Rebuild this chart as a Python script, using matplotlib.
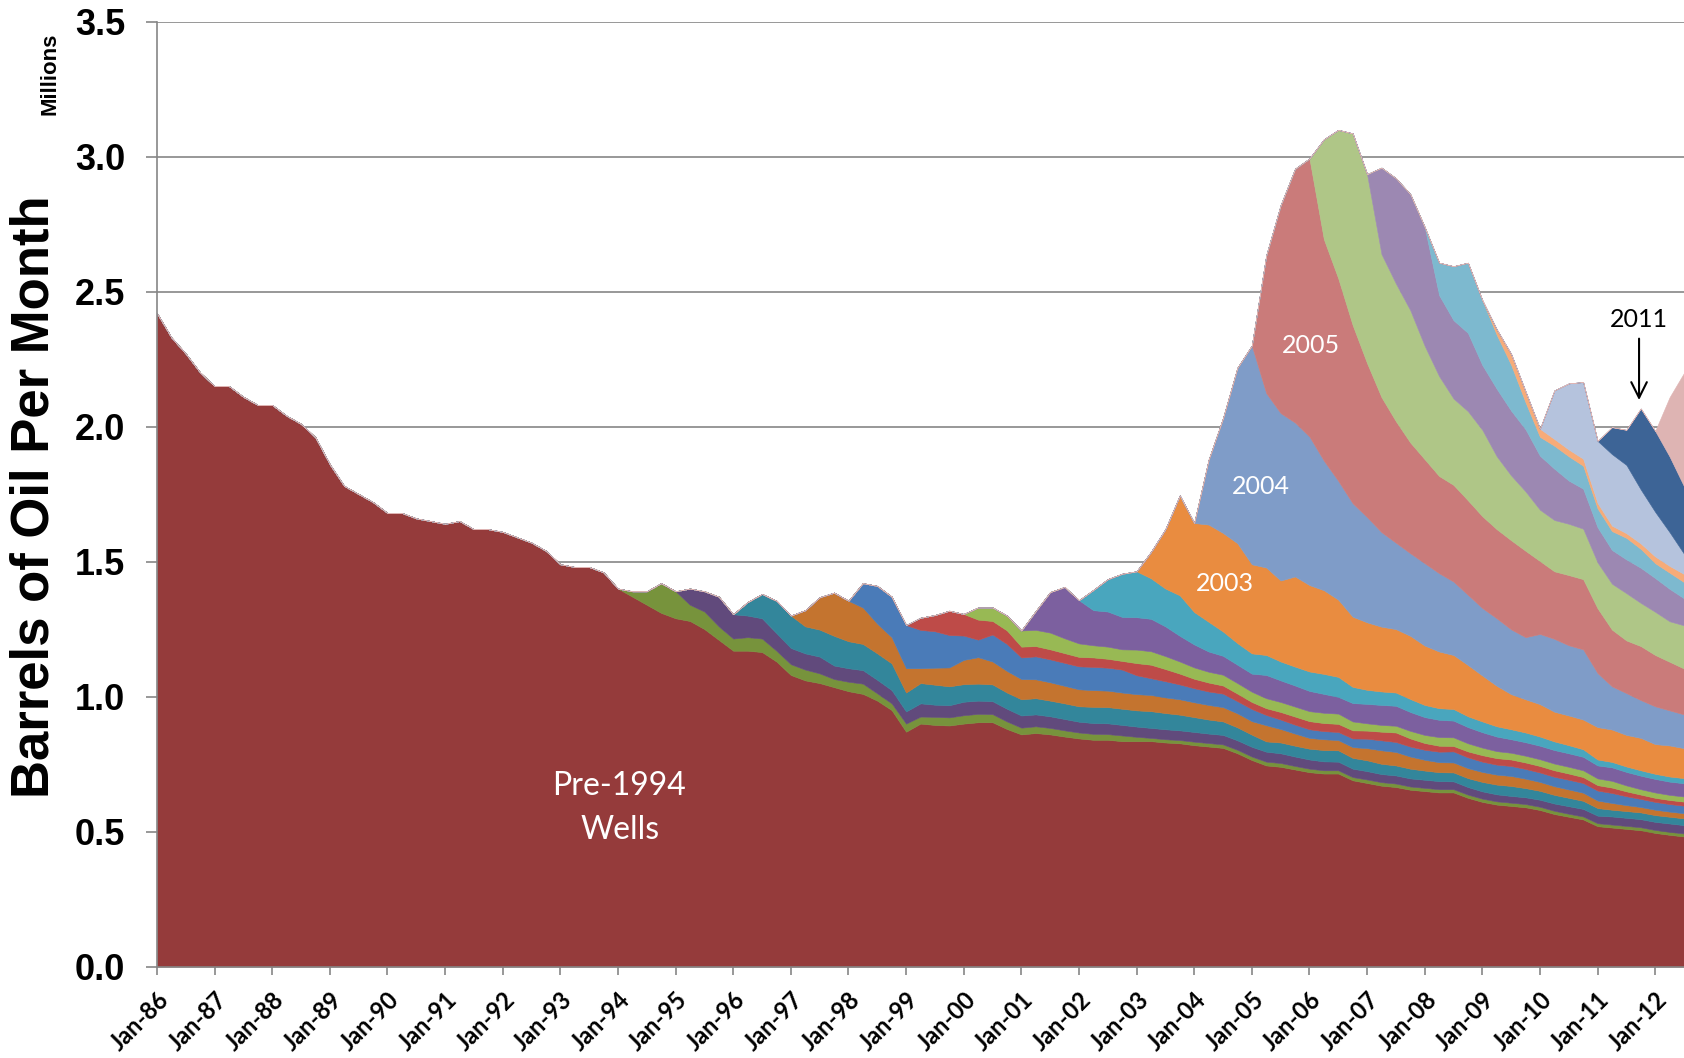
import numpy as np
import matplotlib
matplotlib.use('Agg')
from matplotlib import pyplot as plt

# quarterly readings (Jan, Apr, Jul, Oct) from Jan-86 to Jul-12, millions of barrels per month
start_year = 1986
n_points = 107

pre_1994 = [2.42, 2.33, 2.27, 2.20, 2.15, 2.15, 2.11, 2.08, 2.08, 2.04, 2.01, 1.96,
            1.86, 1.78, 1.75, 1.72, 1.68, 1.68, 1.66, 1.65, 1.64, 1.65, 1.62, 1.62,
            1.61, 1.59, 1.57, 1.54, 1.49, 1.48, 1.48, 1.46, 1.40, 1.37, 1.34, 1.31,
            1.29, 1.28, 1.25, 1.21, 1.17, 1.17, 1.165, 1.13, 1.08, 1.06, 1.05, 1.035,
            1.02, 1.01, 0.985, 0.95, 0.87, 0.90, 0.895, 0.893, 0.90, 0.905, 0.905, 0.88,
            0.86, 0.865, 0.86, 0.852, 0.845, 0.84, 0.84, 0.835, 0.835, 0.835, 0.83, 0.827,
            0.82, 0.815, 0.81, 0.79, 0.765, 0.745, 0.74, 0.73, 0.72, 0.715, 0.715, 0.69,
            0.68, 0.67, 0.665, 0.655, 0.65, 0.645, 0.645, 0.625, 0.61, 0.60, 0.595, 0.59,
            0.58, 0.565, 0.555, 0.545, 0.52, 0.515, 0.51, 0.505, 0.495, 0.488, 0.482]

# each vintage starts in January of its year
wells_1994 = [0, 0.02, 0.05, 0.11, 0.10, 0.06, 0.065, 0.05, 0.045, 0.05, 0.05, 0.04,
              0.04, 0.04, 0.036, 0.03, 0.035, 0.038, 0.027, 0.025, 0.03, 0.026, 0.03, 0.03,
              0.031, 0.031, 0.03, 0.028, 0.025, 0.025, 0.024, 0.023, 0.022, 0.022, 0.021, 0.021,
              0.016, 0.012, 0.012, 0.012, 0.013, 0.013, 0.013, 0.013, 0.013, 0.014, 0.014, 0.013,
              0.013, 0.012, 0.012, 0.012, 0.013, 0.013, 0.013, 0.012, 0.012, 0.012, 0.012, 0.012,
              0.012, 0.012, 0.012, 0.012, 0.012, 0.012, 0.011, 0.011, 0.011, 0.011, 0.011, 0.011,
              0.011, 0.011, 0.011]
wells_1995 = [0, 0.06, 0.075, 0.11, 0.09, 0.08, 0.075, 0.065, 0.06, 0.06, 0.062, 0.05,
              0.05, 0.05, 0.05, 0.049, 0.045, 0.049, 0.045, 0.045, 0.05, 0.049, 0.048, 0.047,
              0.045, 0.044, 0.043, 0.042, 0.04, 0.04, 0.04, 0.039, 0.038, 0.037, 0.037, 0.036,
              0.036, 0.035, 0.035, 0.035, 0.036, 0.037, 0.036, 0.035, 0.034, 0.033, 0.032, 0.031,
              0.031, 0.03, 0.03, 0.03, 0.03, 0.03, 0.029, 0.028, 0.027, 0.026, 0.025, 0.025,
              0.026, 0.027, 0.028, 0.028, 0.028, 0.03, 0.03, 0.03, 0.03, 0.031, 0.031]
wells_1996 = [0, 0.05, 0.09, 0.12, 0.12, 0.10, 0.10, 0.11, 0.10, 0.097, 0.098, 0.099,
              0.07, 0.075, 0.074, 0.07, 0.065, 0.063, 0.062, 0.06, 0.06, 0.06, 0.058, 0.058,
              0.057, 0.06, 0.06, 0.06, 0.06, 0.062, 0.06, 0.058, 0.055, 0.052, 0.05, 0.048,
              0.045, 0.038, 0.04, 0.04, 0.04, 0.042, 0.042, 0.04, 0.04, 0.038, 0.037, 0.036,
              0.034, 0.033, 0.033, 0.033, 0.035, 0.036, 0.037, 0.034, 0.033, 0.032, 0.031, 0.03,
              0.028, 0.025, 0.025, 0.025, 0.025, 0.025, 0.025]
wells_1997 = [0, 0.06, 0.12, 0.16, 0.15, 0.135, 0.11, 0.097, 0.09, 0.055, 0.063, 0.07,
              0.09, 0.098, 0.085, 0.08, 0.075, 0.07, 0.068, 0.065, 0.063, 0.062, 0.061, 0.06,
              0.06, 0.06, 0.058, 0.057, 0.055, 0.054, 0.053, 0.052, 0.05, 0.06, 0.05, 0.045,
              0.04, 0.04, 0.038, 0.04, 0.045, 0.05, 0.05, 0.045, 0.04, 0.037, 0.037, 0.037,
              0.037, 0.037, 0.037, 0.035, 0.033, 0.032, 0.031, 0.03, 0.028, 0.025, 0.022, 0.02,
              0.02, 0.019, 0.019]
wells_1998 = [0, 0.09, 0.14, 0.15, 0.16, 0.142, 0.135, 0.12, 0.09, 0.065, 0.10, 0.10,
              0.08, 0.085, 0.085, 0.085, 0.085, 0.086, 0.085, 0.085, 0.07, 0.062, 0.06, 0.055,
              0.052, 0.05, 0.05, 0.045, 0.045, 0.038, 0.035, 0.033, 0.032, 0.03, 0.03, 0.032,
              0.035, 0.037, 0.037, 0.037, 0.037, 0.039, 0.041, 0.04, 0.038, 0.037, 0.037, 0.036,
              0.035, 0.035, 0.036, 0.036, 0.037, 0.037, 0.033, 0.03, 0.029, 0.028, 0.028]
wells_1999 = [0, 0.045, 0.06, 0.09, 0.08, 0.074, 0.05, 0.05, 0.04, 0.038, 0.037, 0.036,
              0.035, 0.035, 0.033, 0.032, 0.045, 0.05, 0.045, 0.04, 0.035, 0.033, 0.03, 0.028,
              0.026, 0.025, 0.028, 0.03, 0.03, 0.03, 0.03, 0.03, 0.03, 0.032, 0.035, 0.03,
              0.025, 0.022, 0.02, 0.022, 0.024, 0.024, 0.024, 0.024, 0.024, 0.024, 0.023, 0.022,
              0.02, 0.02, 0.018, 0.016, 0.015, 0.015, 0.015]
wells_2000 = [0, 0.045, 0.05, 0.055, 0.06, 0.06, 0.062, 0.055, 0.05, 0.045, 0.045, 0.043,
              0.05, 0.05, 0.048, 0.045, 0.042, 0.04, 0.04, 0.039, 0.038, 0.037, 0.037, 0.037,
              0.037, 0.038, 0.038, 0.033, 0.027, 0.025, 0.025, 0.028, 0.03, 0.032, 0.032, 0.03,
              0.028, 0.026, 0.025, 0.025, 0.025, 0.025, 0.025, 0.025, 0.025, 0.025, 0.022, 0.02,
              0.02, 0.019, 0.019]
wells_2001 = [0, 0.07, 0.15, 0.19, 0.16, 0.13, 0.13, 0.12, 0.12, 0.12, 0.11, 0.095,
              0.085, 0.075, 0.07, 0.068, 0.067, 0.086, 0.08, 0.078, 0.075, 0.07, 0.062, 0.068,
              0.072, 0.074, 0.074, 0.07, 0.066, 0.064, 0.062, 0.06, 0.057, 0.054, 0.05, 0.05,
              0.05, 0.05, 0.05, 0.05, 0.048, 0.05, 0.05, 0.05, 0.05, 0.049, 0.049]
wells_2002 = [0, 0.075, 0.12, 0.16, 0.17, 0.15, 0.14, 0.15, 0.12, 0.11, 0.09, 0.08,
              0.075, 0.074, 0.07, 0.07, 0.072, 0.074, 0.074, 0.06, 0.052, 0.05, 0.049, 0.048,
              0.045, 0.043, 0.043, 0.04, 0.04, 0.038, 0.037, 0.036, 0.034, 0.032, 0.03, 0.028,
              0.022, 0.02, 0.02, 0.02, 0.019, 0.019, 0.019]
wells_2003 = [0, 0.098, 0.22, 0.37, 0.33, 0.36, 0.365, 0.37, 0.33, 0.324, 0.30, 0.334,
              0.32, 0.31, 0.286, 0.26, 0.25, 0.24, 0.235, 0.234, 0.22, 0.21, 0.20, 0.19,
              0.17, 0.15, 0.13, 0.123, 0.12, 0.11, 0.11, 0.11, 0.12, 0.12, 0.117, 0.12,
              0.11, 0.115, 0.111]
wells_2004 = [0, 0.24, 0.425, 0.65, 0.81, 0.646, 0.62, 0.57, 0.55, 0.48, 0.44, 0.42,
              0.39, 0.35, 0.32, 0.306, 0.305, 0.29, 0.272, 0.26, 0.25, 0.25, 0.24, 0.23,
              0.26, 0.27, 0.26, 0.26, 0.20, 0.16, 0.155, 0.14, 0.14, 0.13, 0.125]
wells_2005 = [0, 0.51, 0.77, 0.94, 1.03, 0.82, 0.75, 0.66, 0.57, 0.50, 0.45, 0.41,
              0.385, 0.36, 0.358, 0.35, 0.34, 0.33, 0.33, 0.32, 0.27, 0.25, 0.26, 0.26,
              0.24, 0.21, 0.195, 0.20, 0.19, 0.18, 0.17]
wells_2006 = [0, 0.37, 0.55, 0.71, 0.70, 0.53, 0.51, 0.49, 0.42, 0.37, 0.32, 0.33,
              0.32, 0.27, 0.24, 0.22, 0.19, 0.19, 0.19, 0.187, 0.17, 0.17, 0.175, 0.16,
              0.16, 0.15, 0.16]
wells_2007 = [0, 0.32, 0.39, 0.43, 0.44, 0.30, 0.29, 0.29, 0.24, 0.25, 0.24, 0.23,
              0.20, 0.19, 0.16, 0.148, 0.13, 0.125, 0.125, 0.13, 0.125, 0.12, 0.10]
wells_2008 = [0, 0.12, 0.20, 0.26, 0.24, 0.20, 0.17, 0.10, 0.07, 0.085, 0.09, 0.085,
              0.07, 0.07, 0.08, 0.07, 0.055, 0.06, 0.06]
wells_2009 = [0, 0.02, 0.04, 0.04, 0.03, 0.025, 0.025, 0.026, 0.02, 0.02, 0.017, 0.02,
              0.025, 0.025, 0.03]
wells_2010 = [0, 0.18, 0.245, 0.284, 0.23, 0.265, 0.253, 0.20, 0.165, 0.125, 0.075]
wells_2011 = [0, 0.10, 0.13, 0.30, 0.30, 0.28, 0.25]
wells_2012 = [0, 0.22, 0.42]

series = [pre_1994, wells_1994, wells_1995, wells_1996, wells_1997, wells_1998,
          wells_1999, wells_2000, wells_2001, wells_2002, wells_2003, wells_2004,
          wells_2005, wells_2006, wells_2007, wells_2008, wells_2009, wells_2010,
          wells_2011, wells_2012]
colors = ['#953B3B', '#77933C', '#614A7C', '#33869B', '#C4742F', '#4A7BB8',
          '#BE4B48', '#98B954', '#7C609F', '#49A6BE', '#E98C40', '#7F9CC8',
          '#CA7B7A', '#AFC687', '#9C88B2', '#7DB9CF', '#F7AB78', '#B5C3DD',
          '#3D6496', '#DEB4B3']

t = start_year + 0.25 * np.arange(n_points)
layers = [np.concatenate([np.zeros(n_points - len(s)), s]) for s in series]

fig = plt.figure(figsize=(16.84, 10.58), dpi=100)
ax = fig.add_axes([0.0932, 0.0864, 0.9068, 0.8932])

ax.stackplot(t, *layers, colors=colors, edgecolor='face', linewidth=0.4)

ax.set_xlim(1986, t[-1])
ax.set_ylim(0, 3.5)

years = list(range(1986, 2013))
ax.set_xticks(years)
ax.set_xticklabels(['Jan-%02d' % (y % 100) for y in years])
yt = np.arange(0, 3.51, 0.5)
ax.set_yticks(yt)
ax.set_yticklabels(['%.1f' % v for v in yt])

grey = '#868686'
ax.set_axisbelow(True)
ax.yaxis.grid(True, color=grey, linewidth=1.2)
for side in ['top', 'right']:
    ax.spines[side].set_visible(False)
for side in ['left', 'bottom']:
    ax.spines[side].set_color(grey)
    ax.spines[side].set_linewidth(1.2)

ax.tick_params(axis='x', direction='out', length=6, width=1.2, color=grey, pad=9)
ax.tick_params(axis='y', direction='out', length=8, width=1.2, color=grey, pad=15)
for lab in ax.get_xticklabels():
    lab.set_family('Lato')
    lab.set_fontweight('bold')
    lab.set_fontsize(17)
    lab.set_rotation(45)
    lab.set_ha('right')
    lab.set_va('top')
    lab.set_rotation_mode('anchor')
for lab in ax.get_yticklabels():
    lab.set_family('Liberation Sans')
    lab.set_fontweight('bold')
    lab.set_fontsize(26)

fig.text(0.0205, 0.531, 'Barrels of Oil Per Month', rotation=90, ha='center', va='center',
         fontsize=38, fontweight='bold', family='Liberation Sans')
fig.text(0.0297, 0.930, 'Millions', rotation=90, ha='center', va='center',
         fontsize=16, fontweight='bold', family='Liberation Sans')

ax.text(1994.02, 0.67, 'Pre-1994', color='white', fontsize=23, family='Lato', ha='center', va='center')
ax.text(1994.04, 0.506, 'Wells', color='white', fontsize=23, family='Lato', ha='center', va='center')
ax.text(2006.03, 2.30, '2005', color='white', fontsize=18, family='Lato', ha='center', va='center')
ax.text(2005.16, 1.778, '2004', color='white', fontsize=18, family='Lato', ha='center', va='center')
ax.text(2004.54, 1.42, '2003', color='white', fontsize=18, family='Lato', ha='center', va='center')
ax.text(2011.72, 2.395, '2011', color='black', fontsize=18, family='Lato', ha='center', va='center')
ax.annotate('', xy=(2011.72, 2.088), xytext=(2011.72, 2.336),
            arrowprops=dict(arrowstyle='->', color='black', lw=1.5, mutation_scale=28))

plt.savefig('out.png', dpi=100)
